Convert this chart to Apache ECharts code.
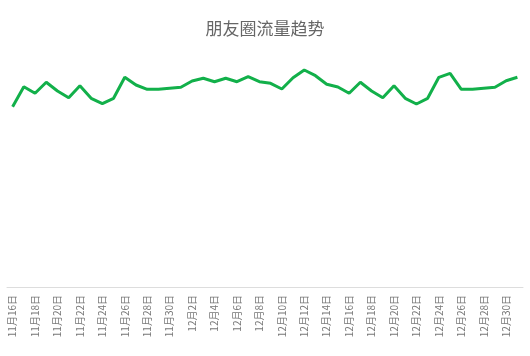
<!DOCTYPE html>
<html>
<head>
<meta charset="utf-8">
<script src="https://cdn.jsdelivr.net/npm/echarts@6/dist/echarts.min.js"></script>
<style>html,body{margin:0;padding:0;background:#fff}#c{width:530px;height:356px}</style>
</head>
<body>
<div id="c"></div>
<script>
var titleText = '朋友圈流量趋势';
var categories = [
  '11月16日','11月17日','11月18日','11月19日','11月20日','11月21日','11月22日','11月23日','11月24日','11月25日',
  '11月26日','11月27日','11月28日','11月29日','11月30日',
  '12月1日','12月2日','12月3日','12月4日','12月5日','12月6日','12月7日','12月8日','12月9日','12月10日',
  '12月11日','12月12日','12月13日','12月14日','12月15日','12月16日','12月17日','12月18日','12月19日','12月20日',
  '12月21日','12月22日','12月23日','12月24日','12月25日','12月26日','12月27日','12月28日','12月29日','12月30日','12月31日'
];
var traffic = [
  1803, 2003, 1937, 2047, 1960, 1893, 2013, 1887, 1833, 1887,
  2097, 2020, 1977, 1977, 1987,
  1997, 2060, 2087, 2053, 2087, 2053, 2103, 2053, 2037, 1980,
  2093, 2170, 2113, 2027, 2000, 1937, 2047, 1960, 1893, 2013,
  1887, 1830, 1887, 2097, 2137, 1977, 1977, 1987, 1997, 2063, 2097
];
var chart = echarts.init(document.getElementById('c'));
chart.setOption({
  animation: false,
  title: {
    text: titleText, left: 'center', top: 15,
    textStyle: { color: '#666', fontSize: 17, fontWeight: 'normal', fontFamily: 'Noto Sans CJK SC' }
  },
  grid: { left: 7, right: 7, top: 37, bottom: 69, containLabel: false },
  xAxis: {
    type: 'category', data: categories, boundaryGap: true,
    axisLine: { lineStyle: { color: '#ddd' } },
    axisTick: { interval: 1, lineStyle: { color: '#ddd' } },
    axisLabel: { interval: 1, rotate: 90, color: '#777', fontSize: 10, fontFamily: 'Noto Sans CJK SC' }
  },
  yAxis: { type: 'value', min: 0, max: 2500, show: false },
  series: [{
    type: 'line', data: traffic, showSymbol: false, smooth: false,
    lineStyle: { color: '#12b04a', width: 3 },
    itemStyle: { color: '#12b04a' }
  }]
});
</script>
</body>
</html>
